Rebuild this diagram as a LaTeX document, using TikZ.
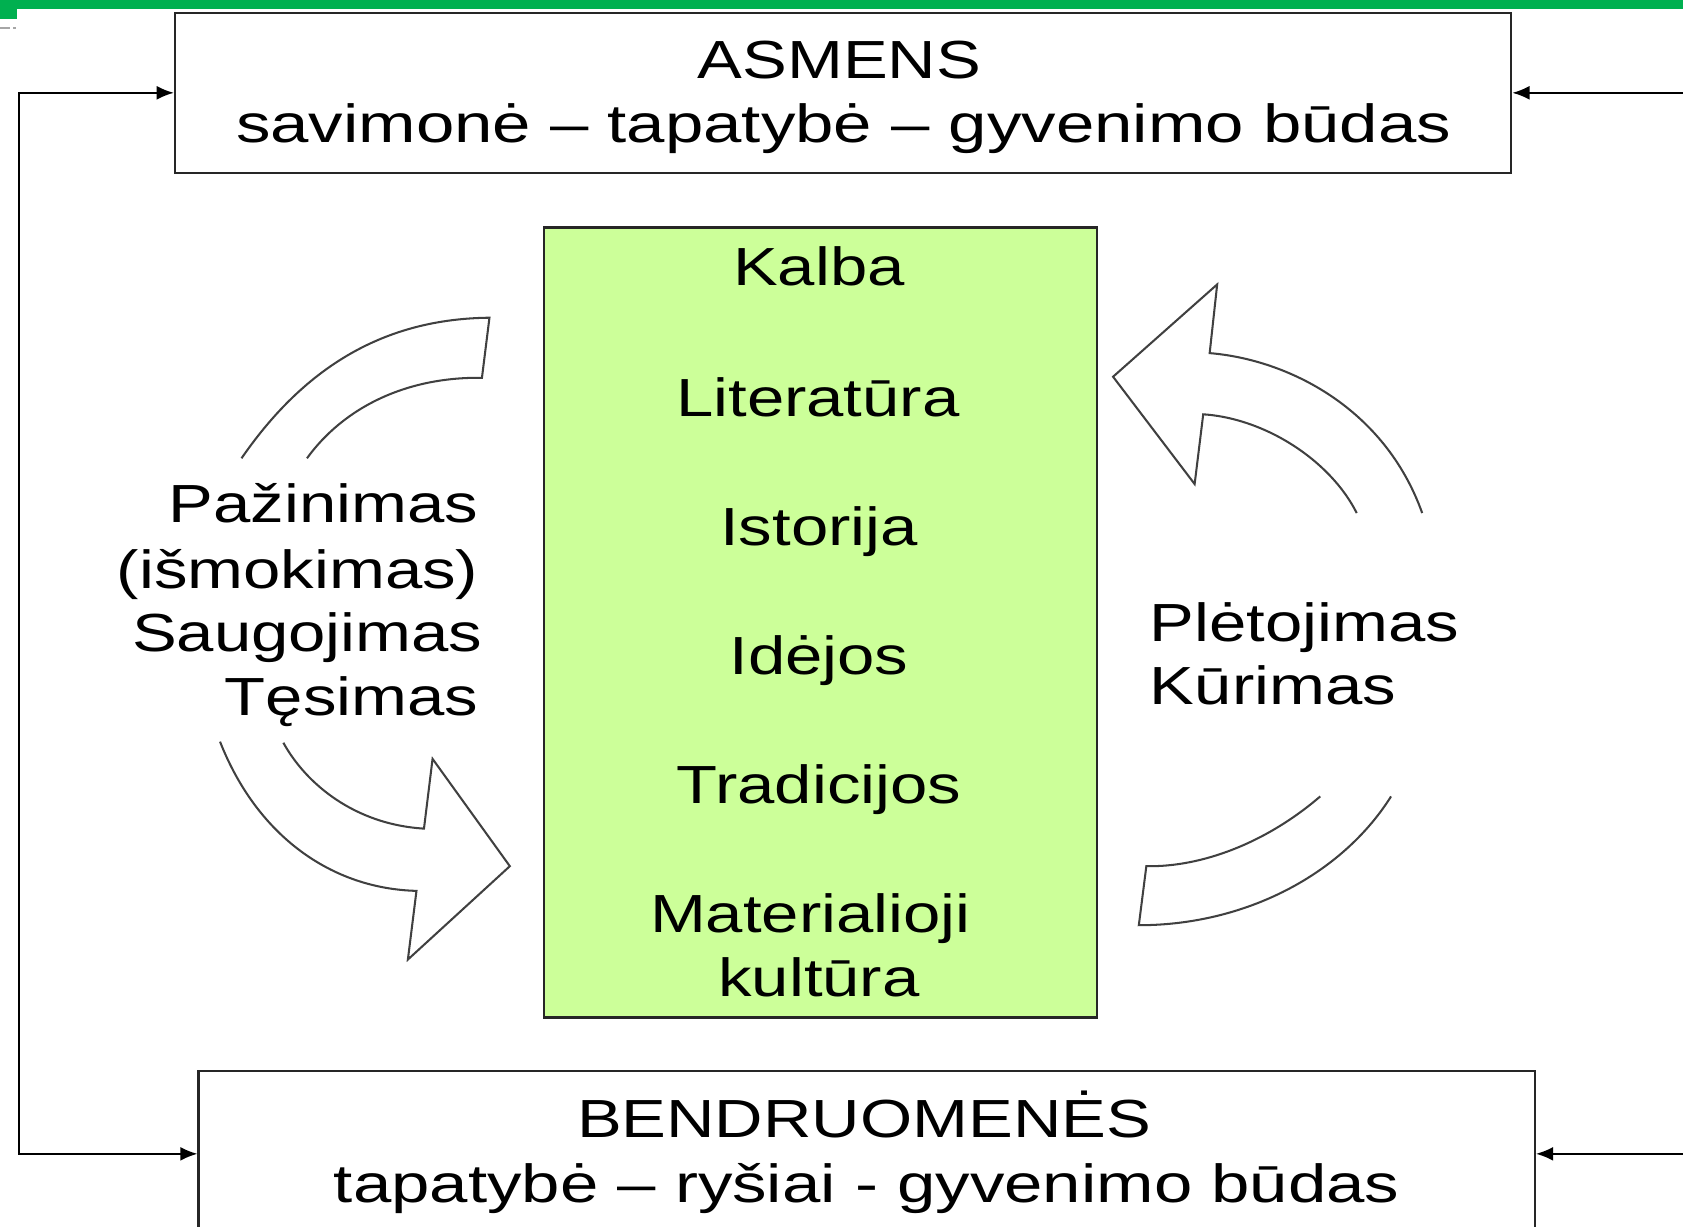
\documentclass[tikz,border=0pt]{standalone}
\usepackage{fontspec}
\newfontfamily\diagfont[FakeStretch=1.25]{Liberation Sans}
\newfontfamily\diagwide[FakeStretch=1.285]{Liberation Sans}
\usetikzlibrary{arrows.meta}
\definecolor{topgreen}{HTML}{00B050}
\definecolor{cultgreen}{HTML}{CCFF99}
\begin{document}
\begin{tikzpicture}[x=0.5pt,y=-0.5pt,
  >={Latex[length=8pt,width=6.5pt]},
  lbl/.style={font=\diagfont\fontsize{25}{30}\selectfont, inner sep=0pt, text=black},
  widelbl/.style={font=\diagwide\fontsize{25}{30}\selectfont, inner sep=0pt, text=black},
  framebox/.style={draw=black!85, line width=1pt, inner sep=0pt},
  link/.style={draw=black, line width=0.9pt},
  bigarrow/.style={draw=black!75, line width=0.95pt, fill=white, line join=miter}]
\useasboundingbox (0,0) rectangle (1568,1143);
% top green bar
\fill[topgreen] (0,0) rectangle (1568,8.5);
\fill[topgreen] (0,8) rectangle (15.5,18);
\draw[black!35, line width=0.8pt] (0,26) -- (9,26) (12.5,26) -- (14.5,26);

% boxes
\node[framebox, minimum width=622.5pt, minimum height=74.5pt] (asm) at (785.5,86.5) {};
\node[framebox, minimum width=622.5pt, minimum height=77pt] (bend) at (807.5,1075) {};
\node[framebox, fill=cultgreen, minimum width=257.5pt, minimum height=368pt] (cult) at (764.5,580) {};

% box texts
\node[lbl, anchor=base] (asmA) at (782,73) {ASMENS};
\node[widelbl, anchor=base] (asmB) at (786,133) {savimonė – tapatybė – gyvenimo būdas};
\node[lbl, anchor=base] (bendA) at (805,1060) {BENDRUOMENĖS};
\node[widelbl, anchor=base] (bendB) at (807.5,1120) {tapatybė – ryšiai - gyvenimo būdas};

% culture box texts
\node[lbl, anchor=base] (c1) at (763,266) {Kalba};
\node[lbl, anchor=base] (c2) at (762,388) {Literatūra};
\node[lbl, anchor=base] (c3) at (763,508) {Istorija};
\node[lbl, anchor=base] (c4) at (763,628) {Idėjos};
\node[lbl, anchor=base] (c5) at (763,749) {Tradicijos};
\node[lbl, anchor=base] (c6) at (755,869) {Materialioji};
\node[lbl, anchor=base] (c7) at (763,928) {kultūra};

% side texts
\node[lbl, anchor=base east] (l1) at (446,487) {Pažinimas};
\node[lbl, anchor=base east] (l2) at (446,548) {(išmokimas)};
\node[lbl, anchor=base east] (l3) at (450,607) {Saugojimas};
\node[lbl, anchor=base east] (l4) at (446,667) {Tęsimas};
\node[lbl, anchor=base west] (r1) at (1071,598) {Plėtojimas};
\node[lbl, anchor=base west] (r2) at (1071,656) {Kūrimas};

% connectors
\coordinate (lt) at (18,86.5);
\coordinate (lb) at (18,1075);
\coordinate (rt) at (1568,86.5);
\coordinate (rb) at (1568,1075);
\draw[link, <->] (asm.west) -- (lt) -- (lb) -- (bend.west);
\draw[link, ->] (rt) -- (asm.east);
\draw[link, ->] (rb) -- (bend.east);

% curved block arrows
\draw[bigarrow] (225,427) .. controls (285,340) and (360,297) .. (456,296)
  -- (449,352) .. controls (378,351) and (320,380) .. (286,427);
\draw[bigarrow] (205,691) .. controls (240,780) and (310,828) .. (388,830)
  -- (380,894) -- (475,807) -- (403,707) -- (395,772)
  .. controls (330,768) and (285,730) .. (264,692);
\draw[bigarrow] (1325,478) .. controls (1290,380) and (1200,335) .. (1127,329)
  -- (1134,265) -- (1037,351) -- (1113,451) -- (1121,386)
  .. controls (1180,390) and (1240,430) .. (1264,478);
\draw[bigarrow] (1230,742) .. controls (1180,785) and (1120,808) .. (1068,807)
  -- (1061,862) .. controls (1160,862) and (1250,815) .. (1296,742);
\end{tikzpicture}
\end{document}
